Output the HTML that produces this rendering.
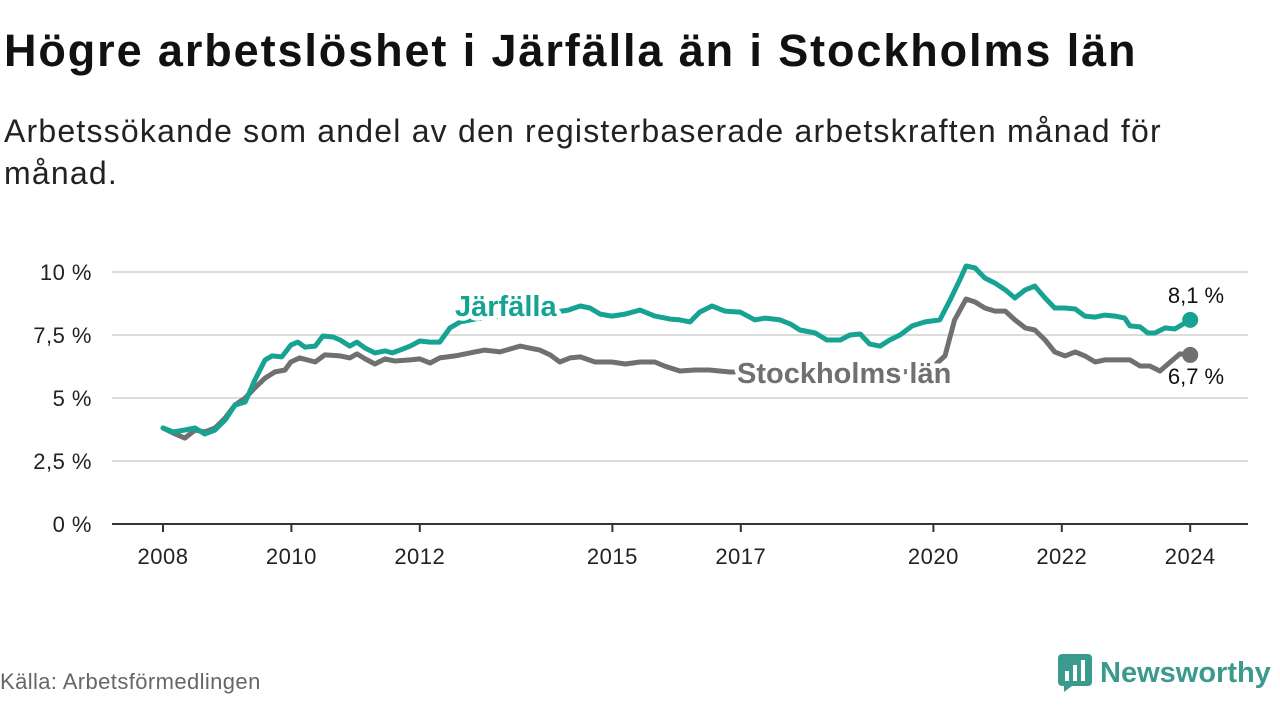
<!DOCTYPE html>
<html><head><meta charset="utf-8">
<style>
html,body{margin:0;padding:0;background:#fff;}
body{width:1280px;height:720px;position:relative;overflow:hidden;font-family:"Liberation Sans",sans-serif;}
h1{position:absolute;left:4px;top:25px;margin:0;font-size:45px;font-weight:bold;color:#111;letter-spacing:1.9px;white-space:nowrap;}
.sub{position:absolute;left:4px;top:110px;margin:0;font-size:32px;line-height:42px;color:#222;width:1200px;letter-spacing:1.2px;}
.src{position:absolute;left:0;top:669px;font-size:22px;color:#666;letter-spacing:0.4px;}
.logo{position:absolute;left:1058px;top:654px;display:flex;align-items:center;}
.logo span{font-size:29px;font-weight:bold;color:#3a9a8e;margin-left:8px;}
svg{position:absolute;left:0;top:0;}
</style></head><body>
<h1>Högre arbetslöshet i Järfälla än i Stockholms län</h1>
<p class="sub">Arbetssökande som andel av den registerbaserade arbetskraften månad för månad.</p>
<svg id="chart" width="1280" height="720"></svg>
<div class="src">Källa: Arbetsförmedlingen</div>
<div class="logo">
<svg width="34" height="38" viewBox="0 0 34 38" style="position:static"><rect x="0" y="0" width="34" height="32" rx="4" fill="#3a9a8e"/><path d="M6 32 L6 38 L14 32Z" fill="#3a9a8e"/><rect x="7" y="17" width="4" height="10" fill="#fff"/><rect x="15" y="11" width="4" height="16" fill="#fff"/><rect x="23" y="6" width="4" height="21" fill="#fff"/></svg>
<span>Newsworthy</span></div>
<script>
const yTicks=[0,2.5,5,7.5,10];
const yTickLabels=["0 %","2,5 %","5 %","7,5 %","10 %"];
const xTicks=[2008,2010,2012,2015,2017,2020,2022,2024];
const jDates=[2008.00,2008.16,2008.34,2008.50,2008.65,2008.81,2008.97,2009.12,2009.28,2009.43,2009.59,2009.70,2009.85,2009.99,2010.10,2010.21,2010.37,2010.49,2010.65,2010.76,2010.91,2011.02,2011.15,2011.30,2011.46,2011.57,2011.69,2011.85,2012.00,2012.16,2012.31,2012.47,2012.63,2012.94,2013.25,2013.56,2013.87,2014.11,2014.31,2014.50,2014.65,2014.81,2014.99,2015.20,2015.43,2015.66,2015.90,2016.05,2016.21,2016.36,2016.55,2016.75,2016.99,2017.22,2017.38,2017.61,2017.77,2017.92,2018.16,2018.34,2018.55,2018.70,2018.86,2019.01,2019.17,2019.32,2019.48,2019.67,2019.87,2020.10,2020.26,2020.41,2020.51,2020.65,2020.80,2020.96,2021.12,2021.27,2021.43,2021.58,2021.74,2021.89,2022.05,2022.21,2022.36,2022.52,2022.67,2022.83,2022.98,2023.06,2023.22,2023.34,2023.45,2023.61,2023.76,2024.00];
const jValues=[3.81,3.65,3.73,3.81,3.57,3.73,4.13,4.72,4.84,5.71,6.51,6.67,6.63,7.10,7.22,7.02,7.06,7.46,7.42,7.30,7.06,7.22,6.98,6.79,6.87,6.79,6.90,7.06,7.26,7.22,7.22,7.78,8.02,8.17,8.25,8.25,8.33,8.41,8.49,8.65,8.57,8.33,8.25,8.33,8.49,8.25,8.13,8.10,8.02,8.41,8.65,8.45,8.41,8.10,8.17,8.10,7.94,7.70,7.58,7.30,7.30,7.50,7.54,7.14,7.06,7.30,7.50,7.86,8.02,8.10,8.89,9.68,10.24,10.16,9.76,9.56,9.29,8.97,9.29,9.44,8.97,8.57,8.57,8.53,8.25,8.21,8.29,8.25,8.17,7.86,7.82,7.58,7.58,7.78,7.74,8.10];
const sDates=[2008.00,2008.19,2008.34,2008.50,2008.65,2008.81,2008.97,2009.12,2009.28,2009.43,2009.59,2009.74,2009.90,2009.99,2010.13,2010.37,2010.52,2010.76,2010.91,2011.02,2011.15,2011.30,2011.46,2011.61,2011.85,2012.00,2012.16,2012.31,2012.55,2012.78,2013.01,2013.25,2013.40,2013.56,2013.71,2013.87,2014.03,2014.18,2014.34,2014.50,2014.73,2014.99,2015.20,2015.43,2015.66,2015.81,2016.05,2016.28,2016.51,2016.83,2017.15,2017.61,2018.08,2018.55,2019.01,2019.48,2019.94,2020.18,2020.33,2020.51,2020.65,2020.80,2020.96,2021.12,2021.27,2021.43,2021.58,2021.74,2021.89,2022.05,2022.21,2022.36,2022.52,2022.67,2022.91,2023.06,2023.22,2023.37,2023.53,2023.69,2023.84,2024.00];
const sValues=[3.81,3.57,3.41,3.73,3.65,3.81,4.21,4.72,5.00,5.40,5.79,6.03,6.11,6.43,6.59,6.43,6.71,6.67,6.59,6.75,6.55,6.35,6.55,6.47,6.51,6.55,6.39,6.59,6.67,6.79,6.90,6.83,6.94,7.06,6.98,6.90,6.71,6.43,6.59,6.63,6.43,6.43,6.35,6.43,6.43,6.27,6.07,6.11,6.11,6.03,6.03,5.95,5.95,5.87,5.95,6.03,6.11,6.67,8.10,8.93,8.81,8.57,8.45,8.45,8.10,7.78,7.70,7.30,6.83,6.67,6.83,6.67,6.43,6.51,6.51,6.51,6.27,6.27,6.07,6.43,6.75,6.71];

const NS="http://www.w3.org/2000/svg";
const svg=document.getElementById('chart');
const X=y=>163+(y-2008)*64.2;
const Y=v=>524-v*25.2;
function mk(t,a){const e=document.createElementNS(NS,t);for(const k in a)e.setAttribute(k,a[k]);svg.appendChild(e);return e;}
yTicks.forEach((t,i)=>{
  if(t>0){const g=mk('line',{x1:112,x2:1248,y1:Y(t),y2:Y(t),stroke:'#dcdcdc','stroke-width':2});
  
  }
  const l=mk('text',{x:92,y:Y(t)+8,'text-anchor':'end','font-size':22,fill:'#222','font-family':'Liberation Sans, sans-serif','letter-spacing':'0.5'});
  l.textContent=yTickLabels[i];
  
  
});
const ax=mk('line',{x1:112,x2:1248,y1:524,y2:524,stroke:'#333','stroke-width':2});


xTicks.forEach(t=>{
  const tk=mk('line',{x1:X(t),x2:X(t),y1:524,y2:532,stroke:'#333','stroke-width':2});
  
  
  const l=mk('text',{x:X(t),y:564,'text-anchor':'middle','font-size':22,fill:'#222','font-family':'Liberation Sans, sans-serif','letter-spacing':'0.5'});
  l.textContent=t;
  
  
});
function line(d,v,c,name){
  const p=mk('path',{d:d.map((x,i)=>(i?'L':'M')+X(x).toFixed(1)+' '+Y(v[i]).toFixed(1)).join(' '),fill:'none',stroke:c,'stroke-width':5,'stroke-linejoin':'round','stroke-linecap':'round'});
  
  
  const n=d.length-1;
  const dot=mk('circle',{cx:X(d[n]),cy:Y(v[n]),r:8,fill:c});
  
  
}
line(sDates,sValues,'#707070','stockholm-line');
line(jDates,jValues,'#17a394','jarfalla-line');
function label(txt,x,y,c,name,bold,anchor){
  const t=mk('text',{x:x,y:y,'font-size':bold?29:22,'font-weight':bold?'bold':'normal',fill:c,stroke:'#fff','stroke-width':bold?9:6,'paint-order':'stroke','stroke-linejoin':'round','font-family':'Liberation Sans, sans-serif','text-anchor':anchor||'start'});
  t.textContent=txt;
  
  
}
label('Järfälla',455,316,'#17a394','jarfalla-label',true);
label('Stockholms län',737,383,'#707070','stockholm-label',true);
label('8,1 %',1196,303,'#111','jarfalla-value',false,'middle');
label('6,7 %',1196,384,'#111','stockholm-value',false,'middle');
</script>
</body></html>
